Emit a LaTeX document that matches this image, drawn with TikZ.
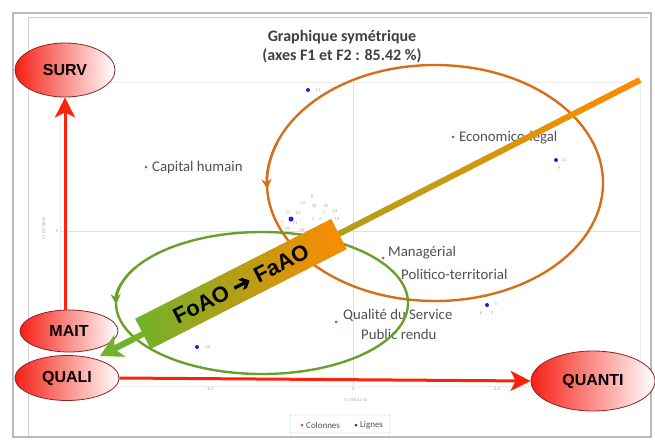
\documentclass[tikz,border=0pt]{standalone}
\usepackage{fontspec}
\setmainfont{Carlito}
\newfontfamily\arialfont{Liberation Sans}
\newfontfamily\symfont[FakeBold=3]{DejaVu Sans}
\usetikzlibrary{shapes.geometric,arrows.meta,calc}
\definecolor{ovalred}{RGB}{246,32,22}
\definecolor{ovalrim}{RGB}{140,35,35}
\definecolor{axisred}{RGB}{252,35,10}
\definecolor{loopor}{RGB}{215,110,25}
\definecolor{loopgr}{RGB}{104,160,42}
\definecolor{bangr}{RGB}{112,178,42}
\definecolor{banor}{RGB}{255,138,0}
\definecolor{labgray}{RGB}{80,80,80}
\definecolor{dotred}{RGB}{240,60,60}
\definecolor{dotblue}{RGB}{30,30,230}
\tikzset{
  oval/.style={ellipse, draw=ovalrim, line width=.8pt, left color=ovalred, right color=white,
    font=\arialfont\bfseries\fontsize{16}{18}\selectfont, inner sep=0pt},
  redarrow/.style={draw=axisred, line width=3pt, -{Stealth[length=20pt,width=20pt,inset=5pt]}},
  loopline/.style={draw=#1, line width=2.4pt},
  banner/.style={rectangle, left color=bangr, right color=banor, minimum width=220pt, minimum height=34pt,
    inner sep=0pt, font=\arialfont\bfseries\fontsize{22}{24}\selectfont},
  coldot/.style={circle, fill=dotred, inner sep=0pt, minimum size=3pt},
  lindot/.style={circle, fill=dotblue, inner sep=0pt, minimum size=4pt},
  lab/.style={anchor=west, inner sep=0pt, text=labgray, font=\fontsize{14.8}{17}\selectfont},
  tiny/.style={inner sep=0pt, text=gray!70, font=\fontsize{4.5}{5}\selectfont},
  leglab/.style={anchor=west, inner sep=0pt, text=labgray, font=\fontsize{9}{10}\selectfont}
}
\begin{document}
\begin{tikzpicture}[x=1pt, y=-1pt]
\useasboundingbox (0,0) rectangle (655,439);
\draw[gray!55, line width=2pt] (13,437) -- (13,13) -- (651,13) -- (651,437) -- cycle;
\draw[gray!35] (28,436) -- (28,17) -- (648,17);
\draw[gray!15] (60,82) rectangle (640,386);
\draw[gray!25] (60,231) -- (640,231) (353,82) -- (353,386);
\node[align=center, text=labgray!80!black, font=\bfseries\fontsize{16}{19}\selectfont] (title) at (342,47)
  {Graphique symétrique\\(axes F1 et F2 : 85.42 \%)};
\node[tiny] (xm) at (210,389) {-0.4};
\node[tiny] (xz) at (353,389) {0};
\node[tiny] (xp) at (497,389) {0.4};
\node[tiny] (xlab) at (356,400) {F1 (58.41 \%)};
\node[tiny] (yz) at (57,231) {0};
\node[tiny, rotate=90] (ylab) at (44,228) {F2 (27.00 \%)};
\node[coldot] (capdot) at (146,167) {};
\node[lab] (capital) at (152,168) {Capital humain};
\node[coldot] (ecodot) at (453,137) {};
\node[lab] (economico) at (459,138) {Economico-legal};
\node[coldot] (mandot) at (383,258) {};
\node[lab] (managerial) at (388,253) {Managérial};
\node[lab] (politico) at (401,274) {Politico-territorial};
\node[coldot] (quadot) at (336,322) {};
\node[lab] (qualite) at (343,315) {Qualité du Service};
\node[lab] (public) at (361,334) {Public rendu};
\node[lindot] (b1) at (308,90) {};
\node[tiny] at (318,90) {11};
\node[lindot] (b2) at (556,160) {};
\node[tiny] at (564,160) {21};
\node[tiny] at (559,168) {9};
\node[lindot] (b3) at (197,347) {};
\node[tiny] at (208,347) {20};
\node[lindot] (b4) at (487,305) {};
\node[tiny] at (484,296) {16};
\node[tiny] at (496,304) {5};
\node[tiny] at (481,313) {6};
\node[tiny] at (492,313) {3};
\node[lindot, minimum size=5pt] (b5) at (291,219) {};
\node[tiny] at (312,196) {8};
\node[tiny] at (303,203) {10};
\node[tiny] at (314,206) {28};
\node[tiny] at (326,206) {30};
\node[tiny] at (288,213) {17};
\node[tiny] at (298,213) {24};
\node[tiny] at (324,213) {7};
\node[tiny] at (335,211) {13};
\node[tiny] at (282,222) {2};
\node[tiny] at (295,223) {21};
\node[tiny] at (313,219) {1};
\node[tiny] at (320,219) {4};
\node[tiny] at (337,219) {19};
\node[tiny] at (287,229) {22};
\node[tiny] at (302,230) {26};
\node[draw=gray!50, fill=white, rounded corners=1pt, minimum width=100pt, minimum height=18pt] (legend) at (340,424) {};
\node[coldot] (legc) at (302,425) {};
\node[leglab] (colonnes) at (306,425) {Colonnes};
\node[lindot, minimum size=3pt] (legl) at (356,425) {};
\node[leglab] (lignes) at (360,425) {Lignes};
\coordinate (ecoC) at (435,183);
\coordinate (orgC) at (262,303);
\draw[loopline=loopor] (ecoC) ellipse [x radius=168, y radius=118];
\draw[loopline=loopor, -{Stealth[length=10pt,width=10pt]}] (ecoC) ++(200:168 and 118)
  arc [start angle=200, end angle=177, x radius=168, y radius=118];
\draw[loopline=loopgr] (orgC) ellipse [x radius=146, y radius=71];
\draw[loopline=loopgr, -{Stealth[length=10pt,width=10pt]}] (orgC) ++(210:146 and 71)
  arc [start angle=210, end angle=179, x radius=146, y radius=71];
\node[oval, minimum width=100pt, minimum height=54pt] (SURV) at (65,70) {SURV};
\node[oval, minimum width=98pt, minimum height=42pt] (MAIT) at (69,331) {MAIT};
\node[oval, minimum width=104pt, minimum height=45pt] (QUALI) at (67,378) {QUALI};
\node[oval, minimum width=124pt, minimum height=60pt] (QUANTI) at (593,381) {QUANTI};
\draw[redarrow] (MAIT.north -| SURV.south) -- (SURV.south);
\draw[redarrow] (QUALI.east) -- (QUANTI.west);
\coordinate (ftail) at (640,80);
\coordinate (fhead) at (100,356);
\coordinate (fneck) at ($(fhead)!16pt!(ftail)$);
\shade[left color=bangr, right color=banor] ($(ftail)!3pt!90:(fneck)$) -- ($(ftail)!3pt!-90:(fneck)$)
  -- ($(fneck)!3pt!90:(ftail)$) -- ($(fneck)!3pt!-90:(ftail)$) -- cycle;
\draw[bangr, line width=6pt, -{Stealth[length=22pt,width=24pt,inset=6pt]}] ($(fhead)!40pt!(ftail)$) -- (fhead);
\node[banner, rotate=27] (flow) at ($(fhead)!0.261!(ftail)$) {FoAO {\symfont\mdseries ➔} FaAO};
\end{tikzpicture}
\end{document}
